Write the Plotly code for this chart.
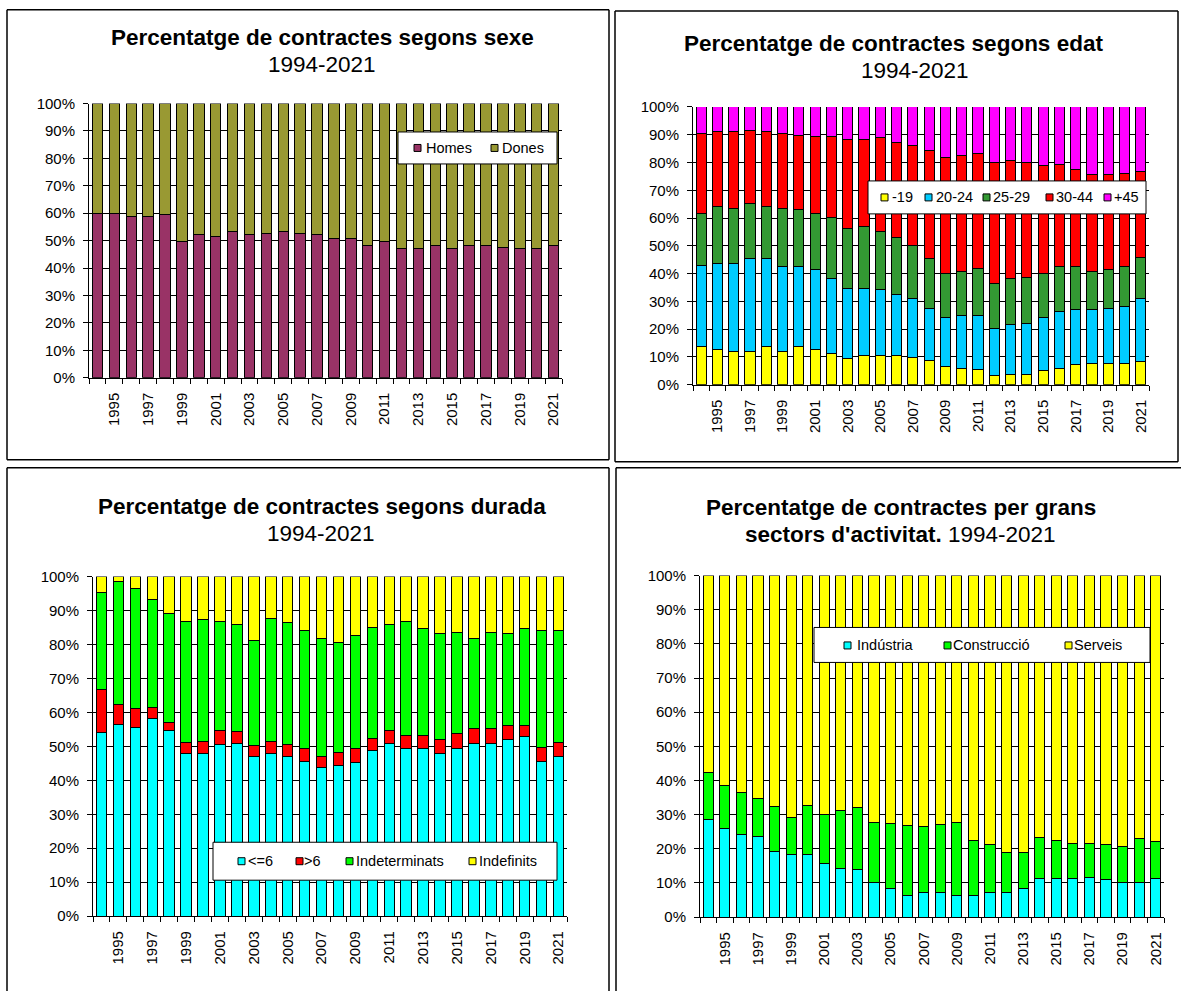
import plotly.graph_objects as go

years = list(range(1994, 2022))
tick_years = [y for y in years if y % 2 == 1]
tick_text = [str(y) for y in tick_years]
pct_vals = list(range(0, 101, 10))
pct_text = [f"{v}%" for v in pct_vals]

# Panel 1 - sexe
homes = [59.9, 59.9, 58.9, 58.9, 59.5, 49.7, 52.1, 51.5, 53.3, 52.1, 52.6, 53.3, 52.6, 52.1,
         50.9, 50.9, 48.1, 49.7, 47.0, 47.0, 48.1, 47.0, 48.1, 48.1, 47.6, 47.0, 47.0, 48.1]
dones = [40.1, 40.1, 41.1, 41.1, 40.5, 50.3, 47.9, 48.5, 46.7, 47.9, 47.4, 46.7, 47.4, 47.9,
         49.1, 49.1, 51.9, 50.3, 53.0, 53.0, 51.9, 53.0, 51.9, 51.9, 52.4, 53.0, 53.0, 51.9]

# Panel 2 - edat
edat_m19 = [13.9, 12.7, 12.1, 12.1, 13.9, 12.1, 13.9, 12.7, 11.1, 9.3, 10.5, 10.5, 10.5, 9.9,
            8.7, 6.7, 6.0, 5.5, 3.4, 3.8, 3.8, 5.0, 6.0, 7.3, 7.8, 7.8, 7.8, 8.4]
edat_20_24 = [29.1, 30.9, 31.5, 33.2, 31.4, 30.3, 28.5, 28.7, 27.0, 25.4, 24.2, 23.8, 22.0, 21.0,
              18.8, 17.6, 18.9, 19.4, 17.0, 17.8, 18.4, 19.3, 20.5, 19.8, 19.3, 19.7, 20.5, 22.5]
edat_25_29 = [18.8, 20.4, 19.9, 19.8, 18.7, 21.1, 20.6, 20.4, 22.0, 21.7, 22.2, 20.9, 20.6, 19.2,
              17.8, 15.9, 15.9, 17.0, 16.1, 16.5, 16.5, 15.9, 15.9, 15.3, 13.7, 13.9, 14.1, 14.8]
edat_30_44 = [28.6, 27.1, 27.6, 26.6, 27.1, 26.9, 26.9, 27.5, 29.2, 31.9, 31.4, 33.7, 34.1, 36.1,
              39.1, 41.6, 41.6, 41.5, 43.5, 42.5, 41.3, 38.6, 37.0, 35.0, 34.9, 34.3, 33.8, 31.1]
edat_45 = [9.6, 8.9, 8.9, 8.3, 8.9, 9.6, 10.1, 10.7, 10.7, 11.7, 11.7, 11.1, 12.8, 13.8,
           15.6, 18.2, 17.6, 16.6, 20.0, 19.4, 20.0, 21.2, 20.6, 22.6, 24.3, 24.3, 23.8, 23.2]

# Panel 3 - durada
dur_le6 = [54.2, 56.4, 55.5, 58.3, 54.6, 47.8, 47.8, 50.5, 50.9, 47.0, 47.8, 47.0, 45.5, 43.8,
           44.4, 45.1, 48.7, 50.9, 49.3, 49.3, 47.8, 49.3, 50.9, 50.9, 52.0, 52.8, 45.5, 47.0]
dur_gt6 = [12.6, 6.0, 5.5, 3.1, 2.3, 3.2, 3.7, 4.3, 3.5, 3.1, 3.7, 3.5, 3.8, 3.2,
           3.9, 4.2, 3.7, 3.9, 4.0, 4.0, 4.2, 4.4, 4.3, 4.3, 4.0, 3.2, 4.2, 4.0]
dur_indet = [28.6, 36.1, 35.4, 31.7, 32.1, 35.8, 35.7, 32.0, 31.5, 31.2, 36.2, 35.9, 34.7, 34.8,
             32.2, 33.3, 32.7, 31.1, 33.5, 31.3, 31.2, 29.9, 26.6, 28.4, 27.2, 28.6, 34.3, 33.0]
dur_indef = [4.6, 1.5, 3.6, 6.9, 11.0, 13.2, 12.8, 13.2, 14.1, 18.7, 12.3, 13.6, 16.0, 18.2,
             19.5, 17.4, 14.9, 14.1, 13.2, 15.4, 16.8, 16.4, 18.2, 16.4, 16.8, 15.4, 16.0, 16.0]

# Panel 4 - sectors
industria = [28.5, 25.9, 24.1, 23.6, 19.2, 18.2, 18.2, 15.6, 14.1, 13.9, 10.2, 8.5, 6.2, 7.3,
             7.3, 6.3, 6.3, 7.3, 7.3, 8.3, 11.4, 11.4, 11.4, 11.7, 10.9, 10.0, 10.0, 11.4]
construccio = [13.9, 12.6, 12.5, 11.2, 13.3, 10.9, 14.5, 14.4, 17.1, 18.3, 17.6, 18.8, 20.5, 19.3,
               19.7, 21.3, 16.1, 13.9, 11.7, 10.7, 12.0, 11.0, 10.3, 10.0, 10.3, 10.7, 13.1, 10.7]
serveis = [57.6, 61.5, 63.4, 65.2, 67.5, 70.9, 67.3, 70.0, 68.8, 67.8, 72.2, 72.7, 73.3, 73.4,
           73.0, 72.4, 77.6, 78.8, 81.0, 81.0, 76.6, 77.6, 78.3, 78.3, 78.8, 79.3, 76.9, 77.9]

W, H = 1181, 999
FONT = "Liberation Sans, Arial, sans-serif"
TICK_SIZE = 15
LEG_SIZE = 14.5
TITLE_SIZE = 22.5


def px(x):
    return x / W


def py(y):
    # vertical pixel position in the target picture -> paper fraction
    # (small correction for how the page is captured vertically)
    y_page = (y - 7.9) / 0.984
    y_page = min(max(y_page, 0), H)
    return 1 - y_page / H


panels = [
    dict(series=[("Homes", homes, "#993366"), ("Dones", dones, "#999933")],
         dom=((89, 562), (102.5, 377)),
         legbox=(398, 131, 557, 163), legsq=[414, 491], legtx=[425, 501], legy=147),
    dict(series=[("-19", edat_m19, "#FFFF00"), ("20-24", edat_20_24, "#00CCFF"),
                 ("25-29", edat_25_29, "#339933"), ("30-44", edat_30_44, "#FF0000"),
                 ("+45", edat_45, "#FF00FF")],
         dom=((693, 1149), (106, 384)),
         legbox=(868, 180, 1146, 213), legsq=[881, 925, 983, 1046, 1104],
         legtx=[891, 935, 992, 1055, 1113], legy=196.5),
    dict(series=[("<=6", dur_le6, "#00FFFF"), (">6", dur_gt6, "#FF0000"),
                 ("Indeterminats", dur_indet, "#00FF00"), ("Indefinits", dur_indef, "#FFFF00")],
         dom=((93, 567), (576, 916)),
         legbox=(213, 842, 557, 880), legsq=[238, 296, 346, 469],
         legtx=[247, 303, 355, 478], legy=861),
    dict(series=[("Indústria", industria, "#00FFFF"), ("Construcció", construccio, "#00FF00"),
                 ("Serveis", serveis, "#FFFF00")],
         dom=((700, 1164), (575, 917)),
         legbox=(814, 627, 1150, 662), legsq=[844, 944, 1065],
         legtx=[856, 952, 1073], legy=645),
]

fig = go.Figure()
layout_axes = {}
shapes = []
annotations = []


def seg(x0, y0, x1, y1):
    shapes.append(dict(type="line", xref="paper", yref="paper", x0=px(x0), x1=px(x1),
                       y0=py(y0), y1=py(y1), line=dict(color="black", width=1.5),
                       layer="below"))


# panel frames (the lower ones run off the bottom/right edge of the picture)
for (x0, y0, x1, y1) in [(7, 8.6, 609, 459), (615, 10, 1178, 461)]:
    seg(x0, y0, x1, y0)
    seg(x0, y1, x1, y1)
    seg(x0, y0, x0, y1)
    seg(x1, y0, x1, y1)
seg(7, 467, 609, 467)
seg(7, 467, 7, 1010)
seg(609, 467, 609, 1010)
seg(616, 467, 1181, 467)
seg(616, 467, 616, 1010)

for i, p in enumerate(panels):
    sx = "" if i == 0 else str(i + 1)
    for name, vals, col in p["series"]:
        fig.add_trace(go.Bar(
            x=years, y=vals, name=name, xaxis="x" + sx, yaxis="y" + sx, showlegend=False,
            marker=dict(color=col, line=dict(color="black", width=1)),
            hovertemplate=name + " %{x}: %{y:.1f}%<extra></extra>",
        ))
    (x0, x1), (y0, y1) = p["dom"]
    layout_axes["xaxis" + sx] = dict(
        domain=[px(x0), px(x1)], anchor="y" + sx, range=[1993.5, 2021.5],
        tickmode="array", tickvals=tick_years, ticktext=tick_text, tickangle=-90,
        ticks="", showline=True, linecolor="black", linewidth=1, showgrid=False,
        zeroline=False, tickfont=dict(size=TICK_SIZE, color="black", family=FONT),
        ticklabelstandoff=8, fixedrange=True,
        minor=dict(tickmode="array", tickvals=[y - 0.5 for y in years] + [2021.5],
                   ticks="outside", ticklen=5, tickcolor="black", tickwidth=1, showgrid=False),
    )
    layout_axes["yaxis" + sx] = dict(
        domain=[py(y1), py(y0)], anchor="x" + sx, range=[0, 100],
        tickmode="array", tickvals=pct_vals, ticktext=pct_text,
        ticks="outside", ticklen=5, tickcolor="black", showline=True, linecolor="black",
        linewidth=1, showgrid=True, gridcolor="black", gridwidth=1, zeroline=False,
        tickfont=dict(size=TICK_SIZE, color="black", family=FONT), fixedrange=True,
        ticklabelstandoff=5,
    )
    # legend drawn as box + swatches + labels
    bx0, by0, bx1, by1 = p["legbox"]
    shapes.append(dict(type="rect", xref="paper", yref="paper", x0=px(bx0), x1=px(bx1),
                       y0=py(by1), y1=py(by0), line=dict(color="black", width=1),
                       fillcolor="white", layer="above"))
    yc = p["legy"]
    for (name, vals, col), sqx, tx in zip(p["series"], p["legsq"], p["legtx"]):
        shapes.append(dict(type="rect", xref="paper", yref="paper", x0=px(sqx), x1=px(sqx + 7),
                           y0=py(yc + 3.5), y1=py(yc - 3.5), line=dict(color="black", width=1),
                           fillcolor=col, layer="above"))
        annotations.append(dict(text=name, x=px(tx), y=py(yc), xref="paper", yref="paper",
                                xanchor="left", yanchor="middle", showarrow=False, borderpad=0,
                                font=dict(size=LEG_SIZE, color="black", family=FONT)))

titles = [
    ("<b>Percentatge de contractes segons sexe</b>", 322, 36),
    ("1994-2021", 322, 63),
    ("<b>Percentatge de contractes segons edat</b>", 893, 42),
    ("1994-2021", 915, 69),
    ("<b>Percentatge de contractes segons durada</b>", 322, 506),
    ("1994-2021", 321, 533),
    ("<b>Percentatge de contractes per grans</b>", 901, 507),
    ("<b>sectors d'activitat.</b> 1994-2021", 900, 534),
]
for txt, x, y in titles:
    annotations.append(dict(text=txt, x=px(x), y=py(y), xref="paper", yref="paper",
                            xanchor="center", yanchor="middle", showarrow=False, borderpad=0,
                            font=dict(size=TITLE_SIZE, color="black", family=FONT)))

fig.update_layout(
    width=W, height=H, margin=dict(l=0, r=0, t=0, b=0, pad=0),
    paper_bgcolor="white", plot_bgcolor="white",
    barmode="stack", bargap=0.38, showlegend=False,
    font=dict(family=FONT, color="black"),
    shapes=shapes, annotations=annotations,
    **layout_axes,
)

fig.write_html(
    "out.html",
    config={"displayModeBar": False},
    post_script=(
        "document.documentElement.style.margin='0px';"
        "document.documentElement.style.overflow='hidden';"
        "document.body.style.margin='0px';"
        "document.body.style.overflow='hidden';"
    ),
)
